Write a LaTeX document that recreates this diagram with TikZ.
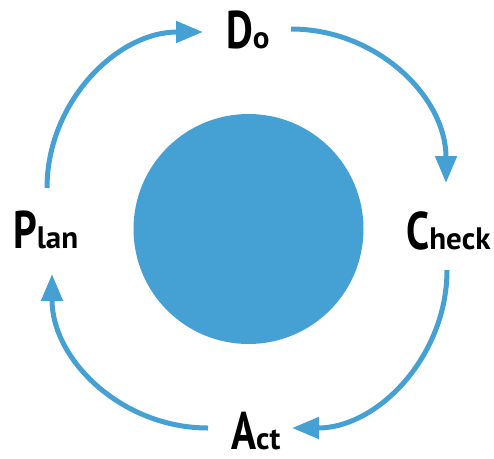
\documentclass[tikz,border=0pt]{standalone}
\usepackage{fontspec}
\usetikzlibrary{arrows.meta}
\newfontfamily\pdcafont[FakeStretch=0.78]{PT Sans}
\newfontfamily\pdcasmall[FakeStretch=1.0]{PT Sans}
\definecolor{pdcablue}{HTML}{45A1D4}
\newcommand{\pdcaword}[2]{{\fontsize{53}{53}\selectfont #1}{\pdcasmall\bfseries\fontsize{31}{31}\selectfont #2}}
\tikzset{
  label/.style={anchor=base west, inner sep=0pt, font=\pdcafont\bfseries, text=black},
  cyclearrow/.style={draw=pdcablue, line width=5pt, -{Triangle[length=27pt,width=21pt]}},
}
\begin{document}
\begin{tikzpicture}[x=1pt,y=-1pt]
\useasboundingbox (0,0) rectangle (494,458);
\node[circle, fill=pdcablue, minimum size=230pt, inner sep=0pt] (core) at (248.5,229) {};
\node[label] (do) at (226,48) {\pdcaword{D}{o}};
\node[label] (plan) at (13,248) {\pdcaword{P}{lan}};
\node[label] (check) at (406,249) {\pdcaword{C}{heck}};
\node[label] (act) at (231,449) {\pdcaword{A}{ct}};
\coordinate (p1) at (47,188);
\coordinate (d0) at (203,32);
\coordinate (d1) at (291,29);
\coordinate (c0) at (446,183);
\coordinate (c1) at (447,270);
\coordinate (a0) at (292,428);
\coordinate (a1) at (208,428);
\coordinate (p0) at (52,274);
\draw[cyclearrow] (p1) .. controls (47,102) and (117,32) .. (d0);
\draw[cyclearrow] (d1) .. controls (377,29) and (446,97) .. (c0);
\draw[cyclearrow] (c1) .. controls (447,356) and (378,428) .. (a0);
\draw[cyclearrow] (a1) .. controls (122,428) and (52,360) .. (p0);
\end{tikzpicture}
\end{document}
